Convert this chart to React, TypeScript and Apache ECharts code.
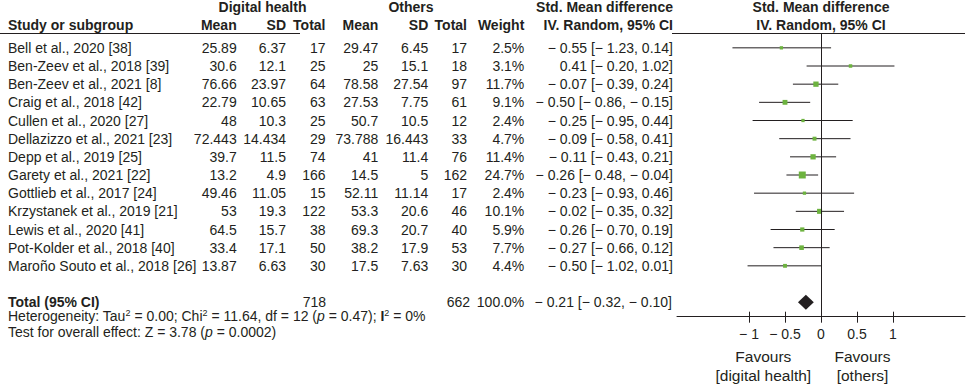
import React, { useEffect, useRef } from "react";
import * as echarts from "echarts";

const studies = [
  "Bell et al., 2020 [38]",
  "Ben-Zeev et al., 2018 [39]",
  "Ben-Zeev et al., 2021 [8]",
  "Craig et al., 2018 [42]",
  "Cullen et al., 2020 [27]",
  "Dellazizzo et al., 2021 [23]",
  "Depp et al., 2019 [25]",
  "Garety et al., 2021 [22]",
  "Gottlieb et al., 2017 [24]",
  "Krzystanek et al., 2019 [21]",
  "Lewis et al., 2020 [41]",
  "Pot-Kolder et al., 2018 [40]",
  "Maroño Souto et al., 2018 [26]",
];
const dhMean = [25.89, 30.6, 76.66, 22.79, 48, 72.443, 39.7, 13.2, 49.46, 53, 64.5, 33.4, 13.87];
const dhSD = [6.37, 12.1, 23.97, 10.65, 10.3, 14.434, 11.5, 4.9, 11.05, 19.3, 15.7, 17.1, 6.63];
const dhN = [17, 25, 64, 63, 25, 29, 74, 166, 15, 122, 38, 50, 30];
const otMean = [29.47, 25, 78.58, 27.53, 50.7, 73.788, 41, 14.5, 52.11, 53.3, 69.3, 38.2, 17.5];
const otSD = [6.45, 15.1, 27.54, 7.75, 10.5, 16.443, 11.4, 5, 11.14, 20.6, 20.7, 17.9, 7.63];
const otN = [17, 18, 97, 61, 12, 33, 76, 162, 17, 46, 40, 53, 30];
const weights = [2.5, 3.1, 11.7, 9.1, 2.4, 4.7, 11.4, 24.7, 2.4, 10.1, 5.9, 7.7, 4.4];
const smd = [-0.55, 0.41, -0.07, -0.5, -0.25, -0.09, -0.11, -0.26, -0.23, -0.02, -0.26, -0.27, -0.5];
const ciLow = [-1.23, -0.2, -0.39, -0.86, -0.95, -0.58, -0.43, -0.48, -0.93, -0.35, -0.7, -0.66, -1.02];
const ciHigh = [0.14, 1.02, 0.24, -0.15, 0.44, 0.41, 0.21, -0.04, 0.46, 0.32, 0.19, 0.12, 0.01];

const totalDH = 718;
const totalOT = 662;
const totalWeight = 100.0;
const pooled = [-0.21, -0.32, -0.1];
const xTicks = [-1, -0.5, 0, 0.5, 1];

const FONT = "'Liberation Sans', Arial, Helvetica, sans-serif";
const INK = "#231f20";
const GREEN = "#6db33f";
const TOTAL_ROW = 14;

const fmt = (v: number) => (v < 0 ? "\u2212 " + (-v).toFixed(2) : v.toFixed(2));
const ciText = (e: number, l: number, h: number) => `${fmt(e)} [${fmt(l)}, ${fmt(h)}]`;

export default function App() {
  const ref = useRef<HTMLDivElement>(null);
  useEffect(() => {
    if (!ref.current) return;
    const chart = echarts.init(ref.current, null, { renderer: "svg" });
    const rows = studies.map((_, i) => [ciLow[i], ciHigh[i], smd[i], i, weights[i]]);
    chart.setOption({
      animation: false,
      grid: { left: 677, width: 288, top: 33.3, height: 283.4 },
      xAxis: [
        {
          type: "value",
          min: -2,
          max: 2,
          position: "bottom",
          axisLine: { show: true, onZero: false, lineStyle: { color: INK, width: 1 } },
          axisTick: { show: true, length: 6, customValues: xTicks, lineStyle: { color: INK } },
          axisLabel: {
            show: true,
            customValues: xTicks,
            margin: 10,
            fontSize: 14,
            fontFamily: FONT,
            color: INK,
            formatter: (v: number) => (v < 0 ? "\u2212 " + Math.abs(v) : String(v)),
          },
          splitLine: { show: false },
        },
        {
          type: "value",
          min: -2,
          max: 2,
          position: "bottom",
          axisLine: { show: false, onZero: false },
          axisTick: { show: true, inside: true, length: 5, customValues: xTicks, lineStyle: { color: INK } },
          axisLabel: { show: false },
          splitLine: { show: false },
        },
      ],
      yAxis: { type: "value", inverse: true, min: -0.8, max: 14.8, show: false },
      series: [
        {
          type: "custom",
          xAxisIndex: 0,
          data: rows,
          renderItem: (params: any, api: any) => {
            const l = api.coord([api.value(0), api.value(3)]);
            const h = api.coord([api.value(1), api.value(3)]);
            const c = api.coord([api.value(2), api.value(3)]);
            const s = 1.6 + 1.08 * Math.sqrt(api.value(4));
            return {
              type: "group",
              children: [
                { type: "line", shape: { x1: l[0], y1: l[1], x2: h[0], y2: h[1] }, style: { stroke: INK, lineWidth: 1 } },
                { type: "rect", shape: { x: c[0] - s / 2, y: c[1] - s / 2, width: s, height: s }, style: { fill: GREEN } },
              ],
            };
          },
          markLine: {
            silent: true,
            symbol: "none",
            label: { show: false },
            lineStyle: { color: INK, width: 1, type: "solid" },
            data: [{ xAxis: 0 }],
          },
        },
        {
          type: "custom",
          xAxisIndex: 0,
          data: [[pooled[1], pooled[2], pooled[0], TOTAL_ROW]],
          renderItem: (params: any, api: any) => {
            const l = api.coord([api.value(0), api.value(3)]);
            const h = api.coord([api.value(1), api.value(3)]);
            const c = api.coord([api.value(2), api.value(3)]);
            const d = 7.5;
            return {
              type: "polygon",
              shape: { points: [[l[0], l[1]], [c[0], c[1] - d], [h[0], h[1]], [c[0], c[1] + d]] },
              style: { fill: INK },
            };
          },
        },
      ],
    });

    const yOf = (i: number) => chart.convertToPixel({ yAxisIndex: 0 }, i) as number;
    const txt = (text: string, x: number, y: number, align: string, bold = false, size = 14): any => ({
      type: "text",
      x,
      y,
      silent: true,
      style: {
        text,
        fontSize: size,
        fontFamily: FONT,
        fontWeight: bold ? "bold" : "normal",
        fill: INK,
        align,
        verticalAlign: "middle",
      },
    });

    const g: any[] = [];
    const h1 = 7;
    const h2 = 24.5;
    g.push(txt("Digital health", 262.5, h1, "center", true));
    g.push(txt("Others", 411, h1, "center", true));
    g.push(txt("Std. Mean difference", 673, h1, "right", true));
    g.push(txt("Std. Mean difference", 821, h1, "center", true));
    g.push(txt("Study or subgroup", 8, h2, "left", true));
    g.push(txt("Mean", 236.7, h2, "right", true));
    g.push(txt("SD", 286, h2, "right", true));
    g.push(txt("Total", 325.5, h2, "right", true));
    g.push(txt("Mean", 378.3, h2, "right", true));
    g.push(txt("SD", 428.3, h2, "right", true));
    g.push(txt("Total", 467, h2, "right", true));
    g.push(txt("Weight", 524.3, h2, "right", true));
    g.push(txt("IV. Random, 95% CI", 673, h2, "right", true));
    g.push(txt("IV. Random, 95% CI", 821, h2, "center", true));

    g.push({ type: "line", silent: true, shape: { x1: 0, y1: 33.5, x2: 300, y2: 33.5 }, style: { stroke: INK, lineWidth: 1 } });
    g.push({ type: "line", silent: true, shape: { x1: 672, y1: 33.5, x2: 965, y2: 33.5 }, style: { stroke: INK, lineWidth: 1 } });

    studies.forEach((name, i) => {
      const y = yOf(i);
      g.push(txt(name, 8, y, "left"));
      g.push(txt(String(dhMean[i]), 236.7, y, "right"));
      g.push(txt(String(dhSD[i]), 286, y, "right"));
      g.push(txt(String(dhN[i]), 325.5, y, "right"));
      g.push(txt(String(otMean[i]), 378.3, y, "right"));
      g.push(txt(String(otSD[i]), 428.3, y, "right"));
      g.push(txt(String(otN[i]), 467, y, "right"));
      g.push(txt(weights[i].toFixed(1) + "%", 524.3, y, "right"));
      g.push(txt(ciText(smd[i], ciLow[i], ciHigh[i]), 673, y, "right"));
    });

    const ty = yOf(TOTAL_ROW);
    g.push(txt("Total (95% CI)", 8, ty, "left", true));
    g.push(txt(String(totalDH), 326, ty, "right"));
    g.push(txt(String(totalOT), 470, ty, "right"));
    g.push(txt(totalWeight.toFixed(1) + "%", 524.3, ty, "right"));
    g.push(txt(ciText(pooled[0], pooled[1], pooled[2]), 672, ty, "right"));

    const rich = {
      n: { fontSize: 14, fontFamily: FONT, fill: INK, lineHeight: 16 },
      s: { fontSize: 9, fontFamily: FONT, fill: INK, verticalAlign: "top", lineHeight: 16 },
      i: { fontSize: 14, fontFamily: FONT, fill: INK, fontStyle: "italic", lineHeight: 16 },
      b: { fontSize: 14, fontFamily: FONT, fill: INK, fontWeight: "bold", lineHeight: 16 },
    };
    g.push({
      type: "text",
      x: 8,
      y: 316,
      silent: true,
      style: {
        text: "{n|Heterogeneity: Tau}{s|2}{n| = 0.00; Chi}{s|2}{n| = 11.64, df = 12 (}{i|p}{n| = 0.47); }{b|I}{s|2}{n| = 0%}",
        rich,
        fill: INK,
        align: "left",
        verticalAlign: "middle",
      },
    });
    g.push({
      type: "text",
      x: 8,
      y: 331.7,
      silent: true,
      style: {
        text: "{n|Test for overall effect: Z = 3.78 (}{i|p}{n| = 0.0002)}",
        rich,
        fill: INK,
        align: "left",
        verticalAlign: "middle",
      },
    });

    g.push(txt("Favours", 763.3, 356.7, "center", false, 15.5));
    g.push(txt("[digital health]", 763.3, 375, "center", false, 15.5));
    g.push(txt("Favours", 862.5, 356.7, "center", false, 15.5));
    g.push(txt("[others]", 862.5, 375, "center", false, 15.5));

    chart.setOption({ graphic: g });
    return () => chart.dispose();
  }, []);
  return <div ref={ref} style={{ position: "fixed", left: 0, top: 0, width: 966, height: 385, background: "#fff" }} />;
}
